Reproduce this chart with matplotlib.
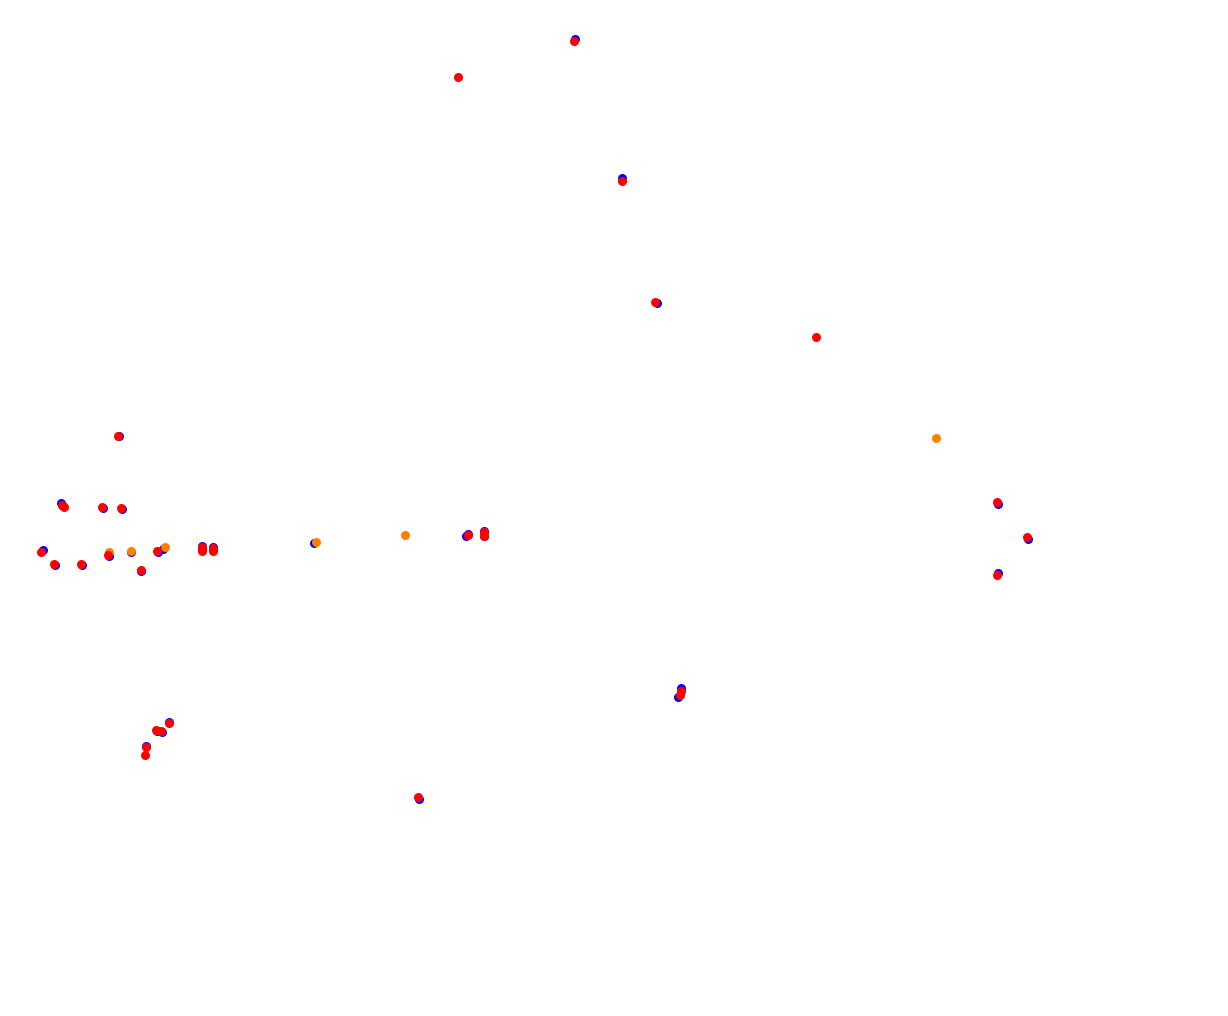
import matplotlib
matplotlib.use("Agg")
import matplotlib.pyplot as plt

# point positions (pixel units, y downward)
blue_x = [575, 118.5, 60.5, 62, 103, 121.7, 42.7, 55, 82, 109, 131, 141.3, 157.7, 163.3,
          202, 202, 212.7, 212.7, 169, 156.7, 162, 146, 314, 466, 468.3, 484, 484,
          997.7, 1027.7, 998.3, 621.7, 656.7, 678.3, 681.3, 419.3]
blue_y = [39.3, 435.5, 502.5, 505, 508.3, 508.7, 550, 565, 565, 556, 552, 571, 551.7, 549,
          546, 550, 547, 550, 721.7, 731, 732.3, 746, 543, 536, 534, 531, 536,
          504, 538.7, 572.7, 178, 303, 696.7, 688, 799]

red_x = [574, 457.5, 117.7, 61.7, 63.7, 101.7, 120.7, 41.3, 53.7, 80.7, 107.7, 141, 156.7,
         202, 202, 212.7, 212.7, 168.7, 155.7, 161, 145.7, 144.7, 468.3, 483.7, 483.7,
         997.3, 1026.7, 997, 621.7, 655, 815.7, 681, 680, 417.7]
red_y = [41.3, 76.5, 436, 505, 507.3, 507.3, 508.3, 552, 564, 564, 555, 569.7, 551,
         547, 551, 548, 551, 723.3, 730, 730.7, 747, 755, 535, 532, 535.5,
         502.3, 537.3, 575, 180.7, 302.3, 337, 691, 695, 797.3]

orange_x = [108.7, 130.7, 164.7, 316, 404.7, 935.7]
orange_y = [552, 551, 547.3, 541.7, 534.7, 437.7]

fig = plt.figure(figsize=(12.28, 10.16), dpi=100)
ax = fig.add_axes([0, 0, 1, 1])
ax.scatter(blue_x, blue_y, s=42, color="#0000ff", linewidths=0, zorder=1)
ax.scatter(orange_x, orange_y, s=42, color="#ff8000", linewidths=0, zorder=2)
ax.scatter(red_x, red_y, s=42, color="#ff0000", linewidths=0, zorder=3)
ax.set_xlim(0, 1228)
ax.set_ylim(1016, 0)
ax.axis("off")

fig.savefig("out.png", dpi=100)
